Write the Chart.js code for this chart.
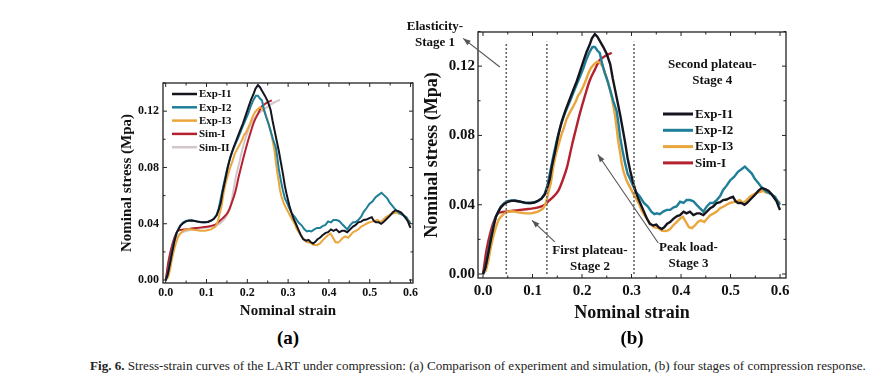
<!DOCTYPE html>
<html>
<head>
<meta charset="utf-8">
<script src="https://cdn.jsdelivr.net/npm/chart.js@4.4.1/dist/chart.umd.min.js"></script>
<style>
  body { margin: 0; background: #fff; width: 876px; height: 388px; position: relative; overflow: hidden; font-family: "Liberation Serif", serif; }
  canvas { position: absolute; }
  #chartA { left: 100px; top: 70px; }
  #chartB { left: 395px; top: 10px; }
  .panel { position: absolute; font-weight: bold; font-size: 19px; transform: translate(-50%, -50%); }
  #caption { position: absolute; left: 90px; top: 358px; font-size: 13px; white-space: nowrap; color: #222; transform-origin: 0 0; }
</style>
</head>
<body>
<canvas id="chartA" width="330" height="255"></canvas>
<canvas id="chartB" width="410" height="320"></canvas>
<div class="panel" style="left:288px;top:338px">(a)</div>
<div class="panel" style="left:632px;top:338px">(b)</div>
<div id="caption"><b>Fig. 6.</b> Stress-strain curves of the LART under compression: (a) Comparison of experiment and simulation, (b) four stages of compression response.</div>
<script>
// ── data: [strain, stress] ─────────────────────────────────────
var expI1 = [
  [0,0],[0.005,0.004],[0.010,0.011],[0.016,0.020],[0.021,0.027],[0.026,0.033],[0.031,0.036],
  [0.036,0.0385],[0.043,0.0405],[0.050,0.0417],[0.057,0.0422],[0.064,0.0423],[0.071,0.042],
  [0.077,0.0416],[0.085,0.0412],[0.092,0.041],[0.097,0.041],[0.104,0.0413],[0.111,0.0423],
  [0.118,0.0435],[0.125,0.046],[0.130,0.050],[0.135,0.055],[0.139,0.062],[0.145,0.070],
  [0.152,0.080],[0.159,0.088],[0.166,0.094],[0.174,0.100],[0.182,0.106],[0.189,0.111],
  [0.196,0.117],[0.203,0.123],[0.209,0.128],[0.215,0.132],[0.220,0.136],[0.226,0.1385],
  [0.231,0.137],[0.237,0.134],[0.243,0.131],[0.250,0.127],[0.257,0.121],[0.262,0.113],
  [0.267,0.106],[0.272,0.099],[0.277,0.092],[0.282,0.084],[0.287,0.076],[0.292,0.067],
  [0.297,0.060],[0.303,0.053],[0.308,0.048],[0.313,0.044],[0.319,0.040],[0.325,0.036],
  [0.331,0.032],[0.337,0.029],[0.344,0.028],[0.350,0.0285],[0.355,0.027],[0.361,0.026],
  [0.366,0.027],[0.372,0.029],[0.378,0.030],[0.385,0.032],[0.392,0.0335],[0.398,0.034],
  [0.405,0.036],[0.411,0.035],[0.418,0.036],[0.425,0.034],[0.432,0.035],[0.438,0.035],
  [0.445,0.034],[0.452,0.036],[0.459,0.038],[0.465,0.039],[0.472,0.041],[0.479,0.0415],
  [0.485,0.0427],[0.492,0.043],[0.499,0.044],[0.505,0.0446],[0.510,0.042],[0.515,0.041],
  [0.522,0.041],[0.528,0.040],[0.533,0.041],[0.540,0.043],[0.549,0.0456],[0.556,0.048],
  [0.563,0.0496],[0.570,0.049],[0.577,0.048],[0.583,0.046],[0.588,0.044],[0.593,0.042],
  [0.597,0.039],[0.600,0.037]
];
var expI2 = [
  [0,0],[0.005,0.004],[0.010,0.012],[0.016,0.021],[0.021,0.028],[0.026,0.033],[0.031,0.036],
  [0.036,0.0388],[0.043,0.041],[0.050,0.042],[0.057,0.0425],[0.064,0.0424],[0.071,0.042],
  [0.077,0.0417],[0.085,0.041],[0.092,0.041],[0.097,0.041],[0.104,0.0415],[0.111,0.042],
  [0.118,0.0435],[0.125,0.0465],[0.130,0.051],[0.135,0.058],[0.142,0.068],[0.149,0.077],
  [0.156,0.085],[0.163,0.091],[0.170,0.096],[0.176,0.100],[0.183,0.105],[0.190,0.110],
  [0.196,0.114],[0.203,0.119],[0.209,0.124],[0.215,0.128],[0.221,0.131],[0.226,0.131],
  [0.231,0.129],[0.236,0.1275],[0.241,0.121],[0.246,0.116],[0.252,0.111],[0.257,0.106],
  [0.263,0.100],[0.270,0.094],[0.274,0.086],[0.277,0.079],[0.282,0.071],[0.287,0.064],
  [0.292,0.058],[0.297,0.055],[0.303,0.051],[0.310,0.047],[0.317,0.0446],[0.325,0.041],
  [0.333,0.0389],[0.340,0.036],[0.346,0.0345],[0.351,0.035],[0.357,0.0345],[0.364,0.036],
  [0.371,0.037],[0.378,0.037],[0.385,0.0385],[0.391,0.039],[0.398,0.0417],[0.405,0.041],
  [0.411,0.0427],[0.418,0.0427],[0.425,0.042],[0.432,0.0398],[0.438,0.038],[0.445,0.036],
  [0.452,0.039],[0.459,0.041],[0.465,0.041],[0.472,0.0427],[0.479,0.045],[0.485,0.0485],
  [0.492,0.051],[0.499,0.054],[0.507,0.056],[0.515,0.059],[0.522,0.0605],[0.529,0.062],
  [0.536,0.060],[0.543,0.058],[0.549,0.055],[0.556,0.0525],[0.563,0.050],[0.573,0.0475],
  [0.582,0.046],[0.590,0.0446],[0.595,0.042],[0.600,0.040]
];
var expI3 = [
  [0,0],[0.006,0.002],[0.011,0.008],[0.016,0.0158],[0.021,0.022],[0.026,0.027],[0.031,0.031],
  [0.036,0.033],[0.043,0.035],[0.050,0.036],[0.057,0.0362],[0.064,0.036],[0.071,0.0356],
  [0.077,0.0354],[0.085,0.035],[0.092,0.035],[0.097,0.035],[0.104,0.0355],[0.111,0.036],
  [0.117,0.037],[0.122,0.038],[0.127,0.041],[0.132,0.047],[0.137,0.0525],[0.142,0.062],
  [0.147,0.069],[0.153,0.075],[0.158,0.080],[0.163,0.084],[0.169,0.0895],[0.175,0.093],
  [0.182,0.0966],[0.188,0.100],[0.192,0.103],[0.197,0.105],[0.202,0.108],[0.208,0.112],
  [0.213,0.116],[0.218,0.119],[0.224,0.121],[0.230,0.1225],[0.236,0.122],[0.242,0.1197],
  [0.248,0.115],[0.253,0.110],[0.257,0.106],[0.260,0.102],[0.264,0.096],[0.267,0.091],
  [0.270,0.084],[0.273,0.077],[0.277,0.070],[0.280,0.064],[0.284,0.059],[0.290,0.054],
  [0.297,0.050],[0.303,0.0467],[0.310,0.043],[0.316,0.040],[0.320,0.037],[0.326,0.034],
  [0.331,0.032],[0.337,0.0294],[0.345,0.027],[0.354,0.0265],[0.362,0.025],[0.371,0.0248],
  [0.378,0.026],[0.384,0.028],[0.391,0.030],[0.398,0.032],[0.404,0.033],[0.410,0.030],
  [0.416,0.027],[0.422,0.0265],[0.428,0.028],[0.434,0.030],[0.440,0.031],[0.447,0.030],
  [0.453,0.032],[0.459,0.034],[0.466,0.035],[0.472,0.036],[0.479,0.038],[0.486,0.039],
  [0.492,0.040],[0.499,0.041],[0.506,0.0415],[0.512,0.042],[0.519,0.0427],[0.525,0.041],
  [0.530,0.042],[0.539,0.0446],[0.547,0.046],[0.554,0.047],[0.560,0.0475],[0.566,0.048],
  [0.572,0.047],[0.580,0.0467],[0.587,0.045],[0.593,0.043],[0.600,0.041]
];
var simI = [
  [0,0],[0.003,0.006],[0.006,0.012],[0.010,0.018],[0.015,0.024],[0.020,0.029],[0.025,0.0325],
  [0.030,0.035],[0.038,0.0357],[0.047,0.036],[0.060,0.0365],[0.075,0.037],[0.091,0.0375],
  [0.105,0.038],[0.118,0.039],[0.125,0.040],[0.132,0.042],[0.140,0.044],[0.152,0.048],
  [0.162,0.055],[0.170,0.062],[0.179,0.0735],[0.188,0.084],[0.196,0.093],[0.206,0.103],
  [0.216,0.112],[0.226,0.118],[0.236,0.1235],[0.248,0.126],[0.260,0.1277]
];
var simII = [
  [0,0],[0.003,0.005],[0.006,0.010],[0.010,0.0166],[0.015,0.023],[0.022,0.028],[0.030,0.032],
  [0.042,0.034],[0.060,0.0355],[0.083,0.0367],[0.105,0.0375],[0.120,0.0385],[0.132,0.040],
  [0.140,0.042],[0.149,0.0455],[0.158,0.051],[0.165,0.062],[0.172,0.0735],[0.180,0.083],
  [0.188,0.093],[0.197,0.102],[0.207,0.110],[0.216,0.1145],[0.225,0.118],[0.240,0.121],
  [0.256,0.1245],[0.268,0.1265],[0.280,0.128]
];

var strainTicks = [0, 0.1, 0.2, 0.3, 0.4, 0.5, 0.6];
var stressTicks = [0, 0.04, 0.08, 0.12];
var stageBounds = [0.047, 0.129, 0.305];   // dotted stage separators in (b)
var stageTop = 0.134;

var seriesNames  = ["Exp-I1", "Exp-I2", "Exp-I3", "Sim-I", "Sim-II"];
var seriesColors = ["#15151f", "#1f7e98", "#eaa63c", "#b5222f", "#d2c6cb"];

var SERIF = "'Liberation Serif', serif";

function pts(arr) {
  return arr.map(function(p) { return { x: p[0], y: p[1] }; });
}

function makeSeries(count, width) {
  var all = [expI1, expI2, expI3, simI, simII];
  var out = [];
  for (var i = 0; i < count; i++) {
    out.push({
      label: seriesNames[i],
      data: pts(all[i]),
      borderColor: seriesColors[i],
      borderWidth: width,
      pointRadius: 0,
      tension: i >= 3 ? 0.35 : 0,
      inLegend: true
    });
  }
  return out;
}

// frame with inward ticks on all four sides
var framePlugin = {
  id: "frame",
  afterDatasetsDraw: function(chart) {
    var a = chart.chartArea, ctx = chart.ctx;
    var xs = chart.scales.x, ys = chart.scales.y;
    ctx.save();
    ctx.strokeStyle = "#222";
    ctx.lineWidth = 1.3;
    ctx.strokeRect(a.left, a.top, a.right - a.left, a.bottom - a.top);
    ctx.lineWidth = 1;
    function tickX(v, len) {
      var px = xs.getPixelForValue(v);
      ctx.beginPath();
      ctx.moveTo(px, a.bottom); ctx.lineTo(px, a.bottom - len);
      ctx.moveTo(px, a.top); ctx.lineTo(px, a.top + len);
      ctx.stroke();
    }
    function tickY(v, len) {
      var py = ys.getPixelForValue(v);
      ctx.beginPath();
      ctx.moveTo(a.left, py); ctx.lineTo(a.left + len, py);
      ctx.moveTo(a.right, py); ctx.lineTo(a.right - len, py);
      ctx.stroke();
    }
    strainTicks.forEach(function(v, i) {
      tickX(v, 4);
      if (i < strainTicks.length - 1) tickX(v + 0.05, 2.5);
    });
    stressTicks.forEach(function(v) {
      tickY(v, 4);
      tickY(v + 0.02, 2.5);
    });
    ctx.restore();
  }
};

// legend drawn inside the plot
var innerLegend = {
  id: "innerLegend",
  afterDraw: function(chart) {
    var o = chart.options.plugins.innerLegend;
    if (!o) return;
    var a = chart.chartArea, ctx = chart.ctx;
    ctx.save();
    ctx.font = "bold " + o.size + "px " + SERIF;
    ctx.textBaseline = "middle";
    var row = 0;
    chart.data.datasets.forEach(function(ds) {
      if (!ds.inLegend) return;
      var x = a.left + o.dx, y = a.top + o.dy + row * o.gap;
      ctx.strokeStyle = ds.borderColor;
      ctx.lineWidth = o.lw;
      ctx.beginPath(); ctx.moveTo(x, y); ctx.lineTo(x + o.len, y); ctx.stroke();
      ctx.fillStyle = "#111";
      ctx.fillText(ds.label, x + o.len + 2, y + 0.5);
      row++;
    });
    ctx.restore();
  }
};

// stage notes and arrows for (b)
var stageNotes = [
  { lines: ["Elasticity-", "Stage 1"], at: [-0.097, 0.1426], from: [0.034, 0.1195], to: [-0.040, 0.136] },
  { lines: ["First plateau-", "Stage 2"], at: [0.216, 0.0133], from: [0.145, 0.0185], to: [0.099, 0.031] },
  { lines: ["Peak load-", "Stage 3"], at: [0.415, 0.0150], from: [0.354, 0.0179], to: [0.232, 0.069] },
  { lines: ["Second plateau-", "Stage 4"], at: [0.463, 0.1206] }
];
var notesPlugin = {
  id: "notes",
  afterDraw: function(chart) {
    if (!chart.options.plugins.notes) return;
    var xs = chart.scales.x, ys = chart.scales.y, ctx = chart.ctx;
    ctx.save();
    ctx.font = "bold 13px " + SERIF;
    ctx.textAlign = "center";
    ctx.textBaseline = "middle";
    stageNotes.forEach(function(n) {
      var tx = xs.getPixelForValue(n.at[0]), ty = ys.getPixelForValue(n.at[1]);
      ctx.fillStyle = "#111";
      n.lines.forEach(function(l, i) { ctx.fillText(l, tx, ty + i * 16); });
      if (!n.from) return;
      var x1 = xs.getPixelForValue(n.from[0]), y1 = ys.getPixelForValue(n.from[1]);
      var x2 = xs.getPixelForValue(n.to[0]), y2 = ys.getPixelForValue(n.to[1]);
      ctx.strokeStyle = "#555";
      ctx.fillStyle = "#555";
      ctx.lineWidth = 1.1;
      ctx.beginPath(); ctx.moveTo(x1, y1); ctx.lineTo(x2, y2); ctx.stroke();
      var ang = Math.atan2(y2 - y1, x2 - x1);
      ctx.beginPath();
      ctx.moveTo(x2, y2);
      ctx.lineTo(x2 - 8 * Math.cos(ang - 0.35), y2 - 8 * Math.sin(ang - 0.35));
      ctx.lineTo(x2 - 8 * Math.cos(ang + 0.35), y2 - 8 * Math.sin(ang + 0.35));
      ctx.closePath(); ctx.fill();
    });
    ctx.restore();
  }
};

function buildOptions(cfg) {
  return {
    responsive: false,
    animation: false,
    devicePixelRatio: 1,
    layout: { padding: { top: cfg.padTop, right: cfg.padRight, left: 0, bottom: 0 } },
    plugins: {
      legend: { display: false },
      tooltip: { enabled: false },
      innerLegend: cfg.legend,
      notes: cfg.notes || false
    },
    scales: {
      x: {
        type: "linear",
        min: cfg.xMin, max: cfg.xMax,
        grid: { display: false, drawTicks: false },
        border: { display: false },
        afterBuildTicks: function(s) { s.ticks = strainTicks.map(function(v) { return { value: v }; }); },
        afterFit: function(s) { s.height = cfg.xAxisH; },
        ticks: {
          padding: cfg.xTickPad, color: "#111", maxRotation: 0,
          font: { family: SERIF, size: cfg.tickSize, weight: "bold" },
          callback: function(v) { return Number(v).toFixed(1); }
        },
        title: {
          display: true, text: "Nominal strain", color: "#111",
          padding: { top: 0, bottom: cfg.xTitlePad },
          font: { family: SERIF, size: cfg.xTitleSize, weight: "bold" }
        }
      },
      y: {
        min: cfg.yMin, max: cfg.yMax,
        grid: { display: false, drawTicks: false },
        border: { display: false },
        afterBuildTicks: function(s) { s.ticks = stressTicks.map(function(v) { return { value: v }; }); },
        afterFit: function(s) { s.width = cfg.yAxisW; },
        ticks: {
          padding: cfg.yTickPad, color: "#111",
          font: { family: SERIF, size: cfg.tickSize, weight: "bold" },
          callback: function(v) { return Number(v).toFixed(2); }
        },
        title: {
          display: true, text: "Nominal stress (Mpa)", color: "#111",
          padding: { top: cfg.yTitlePad, bottom: 0 },
          font: { family: SERIF, size: cfg.yTitleSize, weight: "bold" }
        }
      }
    }
  };
}

function drawCharts() {
  // ── (a) experiment vs simulation ──
  new Chart(document.getElementById("chartA"), {
    type: "line",
    data: { datasets: makeSeries(5, 2) },
    options: buildOptions({
      padTop: 13, padRight: 17, xAxisH: 42, yAxisW: 63,
      xMin: -0.0066, xMax: 0.606, yMin: -0.0021, yMax: 0.14,
      tickSize: 12, xTickPad: 3, yTickPad: 4,
      xTitleSize: 15, xTitlePad: 5, yTitleSize: 15, yTitlePad: 18,
      legend: { dx: 9, dy: 11, gap: 13.3, len: 25, lw: 2.5, size: 11 }
    }),
    plugins: [framePlugin, innerLegend]
  });

  // ── (b) four stages ──
  var stageLines = stageBounds.map(function(b) {
    return {
      label: "stage", data: [{ x: b, y: 0 }, { x: b, y: stageTop }],
      borderColor: "#666", borderWidth: 1.6, borderDash: [2, 2], pointRadius: 0, inLegend: false
    };
  });
  new Chart(document.getElementById("chartB"), {
    type: "line",
    data: { datasets: stageLines.concat(makeSeries(4, 2.4)) },
    options: buildOptions({
      padTop: 22, padRight: 19, xAxisH: 52, yAxisW: 83,
      xMin: -0.0101, xMax: 0.612, yMin: -0.0023, yMax: 0.1397,
      tickSize: 15, xTickPad: 4, yTickPad: 3,
      xTitleSize: 18, xTitlePad: 6, yTitleSize: 18, yTitlePad: 27,
      legend: { dx: 185, dy: 82, gap: 16.3, len: 30, lw: 3, size: 13 },
      notes: true
    }),
    plugins: [framePlugin, innerLegend, notesPlugin]
  });

  // stretch caption to the figure's width
  var cap = document.getElementById("caption");
  cap.style.transform = "scaleX(" + (776 / cap.offsetWidth) + ")";
}

Promise.all([
  document.fonts.load("bold 15px 'Liberation Serif'"),
  document.fonts.load("15px 'Liberation Serif'")
]).then(drawCharts, drawCharts);
</script>
</body>
</html>
